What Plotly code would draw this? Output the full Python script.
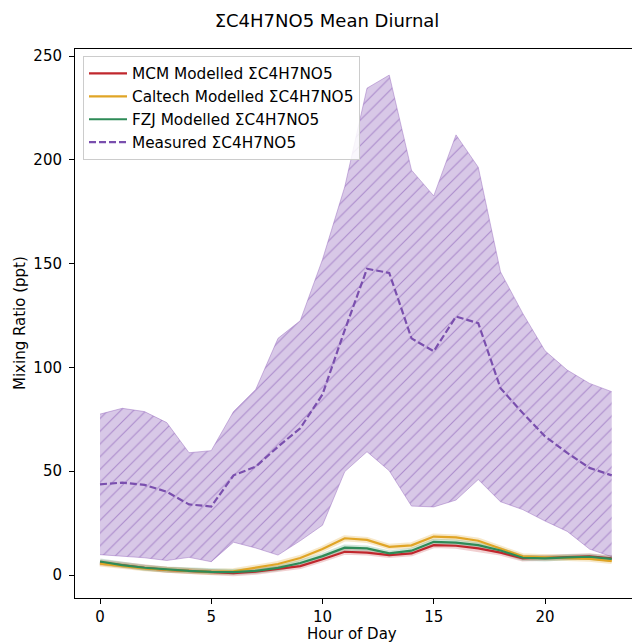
import plotly.graph_objects as go

hours = list(range(24))

measured_mean = [43.7, 44.5, 43.4, 40.1, 34.0, 33.0, 48.0, 52.2, 61.8, 70.7, 87.0, 118.0, 147.5,
                 145.5, 114.0, 107.8, 124.5, 121.3, 90.0, 78.0, 66.8, 58.8, 51.6, 48.0]
measured_upper = [77.5, 80.3, 78.7, 73.4, 58.9, 59.9, 78.7, 89.4, 114.0, 122.5, 152.0, 187.0, 234.5,
                  240.8, 195.0, 182.6, 212.0, 196.4, 146.0, 126.0, 108.0, 98.7, 92.3, 88.3]
measured_lower = [9.8, 9.2, 8.3, 7.0, 8.5, 6.4, 15.8, 13.0, 9.6, 16.5, 24.0, 49.8, 59.4,
                  50.2, 33.2, 32.8, 36.1, 46.0, 35.3, 31.5, 26.0, 21.0, 12.5, 8.8]

mcm = [6.0, 4.6, 3.4, 2.5, 1.9, 1.3, 0.9, 1.6, 2.8, 4.3, 7.6, 11.2, 10.8, 9.6, 10.4, 14.4, 14.1,
       12.8, 10.8, 8.0, 8.3, 8.8, 9.0, 8.0]
caltech = [5.5, 4.2, 3.2, 2.5, 2.0, 1.5, 1.8, 3.5, 5.3, 8.2, 12.5, 17.7, 16.9, 13.6, 14.3, 18.5,
           18.1, 16.5, 12.8, 9.0, 8.5, 8.3, 7.8, 6.7]
fzj = [6.5, 4.8, 3.5, 2.6, 2.0, 1.5, 1.4, 2.0, 3.4, 5.8, 9.1, 13.2, 12.8, 10.4, 11.7, 16.0, 15.6,
       14.4, 11.8, 8.3, 8.0, 8.5, 8.8, 7.8]

names = ["MCM Modelled \u03a3C4H7NO5", "Caltech Modelled \u03a3C4H7NO5",
         "FZJ Modelled \u03a3C4H7NO5", "Measured \u03a3C4H7NO5"]
title = "\u03a3C4H7NO5 Mean Diurnal"

FONT = "DejaVu Sans"
W, H = 632, 644
L, R, T, B = 75, 0, 49, 46
pw, ph = W - L - R, H - T - B

fig = go.Figure()

# measured band
fig.add_trace(go.Scatter(x=hours, y=measured_lower, mode="lines",
                         line=dict(color="rgba(148,103,189,0.45)", width=1),
                         showlegend=False, hoverinfo="skip"))
fig.add_trace(go.Scatter(x=hours, y=measured_upper, mode="lines", fill="tonexty",
                         line=dict(color="rgba(148,103,189,0.45)", width=1),
                         fillcolor="rgba(148,103,189,0.36)",
                         fillpattern=dict(shape="/", size=9, solidity=0.12,
                                          fgcolor="rgba(140,95,185,0.6)",
                                          bgcolor="rgba(148,103,189,0.36)",
                                          fillmode="replace"),
                         showlegend=False, hoverinfo="skip"))

fig.add_trace(go.Scatter(x=hours, y=measured_mean, mode="lines", name=names[3],
                         line=dict(color="#7a4fae", width=2.2, dash="7px,3px"),
                         legendrank=4))

colors = ["#c0272d", "#e0a526", "#2e8b57"]
halo = ["rgba(192,39,45,0.22)", "rgba(224,165,38,0.25)", "rgba(46,139,87,0.22)"]
for i, series in enumerate([mcm, caltech, fzj]):
    fig.add_trace(go.Scatter(x=hours, y=series, mode="lines",
                             line=dict(color=halo[i], width=6),
                             showlegend=False, hoverinfo="skip"))
for i, series in enumerate([mcm, caltech, fzj]):
    fig.add_trace(go.Scatter(x=hours, y=series, mode="lines", name=names[i],
                             line=dict(color=colors[i], width=2.2),
                             legendrank=i + 1))

px_per_hour = 22.25
x0 = -(100 - L) / px_per_hour
x1 = x0 + pw / px_per_hour
px_per_ppt = 2.076
y1 = (575 - T) / px_per_ppt
y0 = -(H - B - 575) / px_per_ppt

fig.update_layout(
    width=W, height=H,
    margin=dict(l=L, r=R, t=T, b=B),
    paper_bgcolor="white", plot_bgcolor="white",
    font=dict(family=FONT, size=15, color="black"),
    title=dict(text=title, x=327 / W, xref="container", xanchor="center",
               y=1 - 21 / H, yref="container", yanchor="middle",
               font=dict(family=FONT, size=18, color="black")),
    showlegend=True,
    legend=dict(x=(83 - L) / pw, y=1 - (56 - T) / ph, xanchor="left", yanchor="top",
                bgcolor="rgba(255,255,255,0.85)", bordercolor="#cccccc", borderwidth=1,
                font=dict(family=FONT, size=15.3, color="black"),
                itemwidth=38, traceorder="normal"),
    xaxis=dict(range=[x0, x1], tickvals=[0, 5, 10, 15, 20], ticks="outside", ticklen=5,
               tickwidth=1, tickcolor="black", showline=True, linecolor="black",
               linewidth=1, mirror=True, showgrid=False, zeroline=False,
               tickfont=dict(family=FONT, size=15, color="black")),
    yaxis=dict(range=[y0, y1], tickvals=[0, 50, 100, 150, 200, 250], ticks="outside",
               ticklen=5, tickwidth=1, tickcolor="black", showline=True,
               linecolor="black", linewidth=1, showgrid=False, zeroline=False,
               ticklabelstandoff=4,
               tickfont=dict(family=FONT, size=15, color="black")),
    annotations=[
        dict(text="Hour of Day", xref="paper", yref="paper", x=(352 - L) / pw,
             y=-(634 - (H - B)) / ph, xanchor="center", yanchor="middle",
             showarrow=False, font=dict(family=FONT, size=15, color="black")),
        dict(text="Mixing Ratio (ppt)", xref="paper", yref="paper", x=(20 - L) / pw,
             y=((H - B) - 323) / ph, xanchor="center", yanchor="middle", textangle=-90,
             showarrow=False, font=dict(family=FONT, size=15, color="black")),
    ],
)

fig.write_html("out.html")
